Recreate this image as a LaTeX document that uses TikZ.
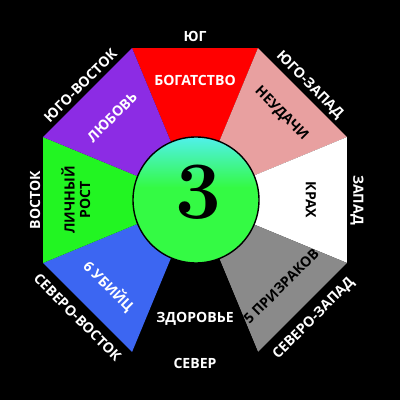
\documentclass[tikz,border=0pt]{standalone}
\usepackage{fontspec}
\setmainfont{Open Sans}
\newfontfamily\digitfont{Latin Modern Roman}
\definecolor{wealthred}{RGB}{255,0,0}
\definecolor{failpink}{RGB}{232,160,160}
\definecolor{ghostgray}{RGB}{138,138,138}
\definecolor{killerblue}{RGB}{60,102,242}
\definecolor{growgreen}{RGB}{34,245,34}
\definecolor{lovepurple}{RGB}{140,44,228}
\definecolor{orbgreen}{RGB}{52,250,68}
\definecolor{orbcyan}{RGB}{80,240,235}
\pgfdeclareverticalshading{orb}{100bp}{color(0bp)=(orbgreen); color(55bp)=(orbgreen); color(75bp)=(orbcyan); color(100bp)=(orbcyan)}
\def\R{4.113}
\tikzset{
	inner/.style={font=\bfseries\fontsize{10}{11}\selectfont, align=center},
	outer/.style={font=\bfseries\fontsize{10}{11}\selectfont, text=white},
	digit/.style={font=\digitfont\bfseries\fontsize{58}{58}\selectfont}
}

\begin{document}
\begin{tikzpicture}
				\fill[black] (-4.875, -5) rectangle (5.125, 5);
				
				% sectors, one per side of the octagon
				\fill[wealthred] (0, 0) -- (67.5:\R) -- (112.5:\R) -- cycle;
				\fill[failpink] (0, 0) -- (22.5:\R) -- (67.5:\R) -- cycle;
				\fill[white] (0, 0) -- (-22.5:\R) -- (22.5:\R) -- cycle;
				\fill[ghostgray] (0, 0) -- (-67.5:\R) -- (-22.5:\R) -- cycle;
				\fill[black] (0, 0) -- (-112.5:\R) -- (-67.5:\R) -- cycle;
				\fill[killerblue] (0, 0) -- (-157.5:\R) -- (-112.5:\R) -- cycle;
				\fill[growgreen] (0, 0) -- (157.5:\R) -- (202.5:\R) -- cycle;
				\fill[lovepurple] (0, 0) -- (112.5:\R) -- (157.5:\R) -- cycle;
				
				% centre disc
				\shade[shading=orb] (0.025, 0) circle (1.575);
				\draw[line width=1pt] (0.025, 0) circle (1.575);
				\node[digit, text=black] (three) at (0.075, 0.2) {3};
				
				% sector texts
				\node[inner, text=white] (wealth) at (90:3) {БОГАТСТВО};
				\node[inner, text=black, rotate=-45] (fail) at (45:3.05) {НЕУДАЧИ};
				\node[inner, text=black, rotate=-90] (crash) at (0:2.9) {КРАХ};
				\node[inner, text=black, rotate=45] (ghosts) at (-45:3.05) {5 ПРИЗРАКОВ};
				\node[inner, text=white] (health) at (-90:2.98) {ЗДОРОВЬЕ};
				\node[inner, text=white, rotate=-45] (killers) at (-135:3.05) {6 УБИЙЦ};
				\node[inner, text=black, rotate=90] (growth) at (180:2.98) {ЛИЧНЫЙ\\РОСТ};
				\node[inner, text=white, rotate=45] (love) at (135:2.93) {ЛЮБОВЬ};
				
				% compass points
				\node[outer] (south) at (90:4.1) {ЮГ};
				\node[outer, rotate=-45] (southwest) at (45:4.05) {ЮГО-ЗАПАД};
				\node[outer, rotate=-90] (west) at (0:4.05) {ЗАПАД};
				\node[outer, rotate=45] (northwest) at (-45:4.2) {СЕВЕРО-ЗАПАД};
				\node[outer] (north) at (-90:4.08) {СЕВЕР};
				\node[outer, rotate=-45] (northeast) at (-135:4.15) {СЕВЕРО-ВОСТОК};
				\node[outer, rotate=90] (east) at (180:4.0) {ВОСТОК};
				\node[outer, rotate=45] (southeast) at (135:4.05) {ЮГО-ВОСТОК};
			\end{tikzpicture}
\end{document}
